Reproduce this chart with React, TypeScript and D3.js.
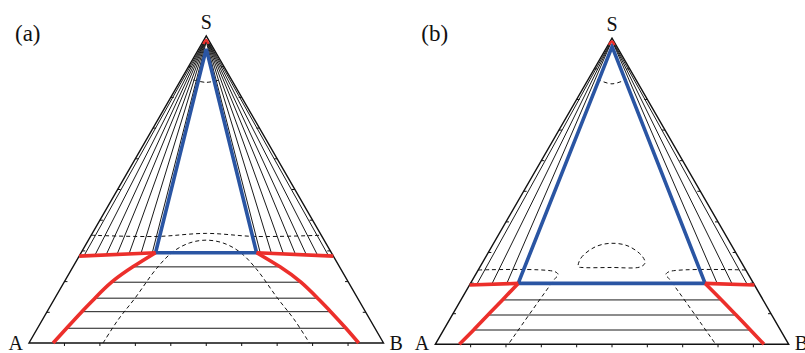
import * as d3 from "d3";
import React from "react";

// a point of the ternary diagram is [xB, xS]; xA = 1 - xB - xS
type P = [number, number];

const tickFractions = [0.1, 0.2, 0.3, 0.4, 0.5, 0.6, 0.7, 0.8, 0.9];

// ---------- panel (a)
const aBlue: P[] = [[0.021, 0.958], [0.21, 0.294], [0.495, 0.294]];
const aRedTop: P[] = [[0.005, 0.974], [0.0065, 0.987], [0.019, 0.974]];
const aRedFlatL: P[] = [[0, 0.283], [0.21, 0.294]];
const aRedFlatR: P[] = [[0.495, 0.294], [0.717, 0.283]];
const aRedL: P[] = [[0.21, 0.294], [0.169, 0.248], [0.134, 0.198], [0.113, 0.146], [0.098, 0.102], [0.082, 0.048], [0.068, 0]];
const aRedR: P[] = [[0.495, 0.294], [0.584, 0.248], [0.668, 0.198], [0.741, 0.146], [0.8, 0.102], [0.87, 0.048], [0.93, 0]];
const aFanTopL: P[] = [[0.003, 0.976], [0.004, 0.977], [0.005, 0.978], [0.006, 0.979], [0.007, 0.98], [0.008, 0.981], [0.009, 0.982]];
const aFanBotL: P[] = [[0.013, 0.284], [0.043, 0.285], [0.074, 0.287], [0.104, 0.288], [0.137, 0.29], [0.17, 0.292], [0.201, 0.293]];
const aFanTopR: P[] = [[0.021, 0.976], [0.019, 0.977], [0.017, 0.978], [0.015, 0.979], [0.013, 0.98], [0.011, 0.981], [0.009, 0.982]];
const aFanBotR: P[] = [[0.703, 0.284], [0.672, 0.285], [0.639, 0.287], [0.608, 0.288], [0.573, 0.29], [0.538, 0.292], [0.506, 0.293]];
const aDashTop: P[] = [[0.035, 0.857], [0.075, 0.849], [0.11, 0.857]];
const aDashFlat: P[] = [[0, 0.351], [0.185, 0.347], [0.3215, 0.357], [0.467, 0.347], [0.649, 0.351]];
const aDashCurve: P[] = [[0.209, 0], [0.2135, 0.075], [0.226, 0.146], [0.2385, 0.243], [0.2575, 0.297], [0.2895, 0.3257], [0.332, 0.335], [0.3848, 0.3257], [0.4455, 0.297], [0.5185, 0.243], [0.628, 0.146], [0.7115, 0.075], [0.791, 0]];

// ---------- panel (b)
const bBlue: P[] = [[0.014, 0.9725], [0.135, 0.199], [0.664, 0.199]];
const bRedTop: P[] = [[0.0025, 0.978], [0.005, 0.9895], [0.0181, 0.978]];
const bRedFlatL: P[] = [[0, 0.194], [0.135, 0.199]];
const bRedFlatR: P[] = [[0.664, 0.199], [0.806, 0.194]];
const bRedL: P[] = [[0.135, 0.199], [0.1175, 0.145], [0.101, 0.0957], [0.085, 0.0467], [0.068, 0]];
const bRedR: P[] = [[0.664, 0.199], [0.7375, 0.145], [0.8033, 0.0957], [0.8683, 0.0467], [0.93, 0]];
const bFanTopL: P[] = [[0.003, 0.978], [0.004, 0.98], [0.005, 0.982]];
const bFanBotL: P[] = [[0.0195, 0.195], [0.0615, 0.197], [0.103, 0.198]];
const bFanTopR: P[] = [[0.019, 0.978], [0.016, 0.98], [0.013, 0.982]];
const bFanBotR: P[] = [[0.7855, 0.195], [0.7415, 0.197], [0.699, 0.198]];
const bDashTop: P[] = [[0.025, 0.866], [0.0745, 0.851], [0.109, 0.866]];
const bDashDome: P[] = [[0.2778, 0.2536], [0.2713, 0.282], [0.2929, 0.318], [0.3322, 0.33], [0.3847, 0.3212], [0.4406, 0.2886], [0.4605, 0.2657], [0.453, 0.2526], [0.3717, 0.251], [0.2896, 0.251]];
const bDashL: P[] = [[0, 0.2428], [0.22, 0.2373], [0.2348, 0.2265], [0.2317, 0.2157], [0.2066, 0]];
const bDashR: P[] = [[0.7572, 0.2428], [0.5427, 0.2373], [0.5387, 0.2265], [0.5526, 0.2157], [0.7934, 0]];

const BLUE = "#2a55a3";
const RED = "#ec2f2b";
const FONT = "'Liberation Serif', 'DejaVu Serif', serif";

function Ternary({ geo, label, d }: any) {
  const x = d3.scaleLinear().domain([0, 1]).range([geo.x0, geo.x0 + geo.w]);
  const y = d3.scaleLinear().domain([0, 1]).range([geo.baseY, geo.baseY - (geo.w * Math.sqrt(3)) / 2]);
  const px = (p: P) => x(p[0] + p[1] / 2);
  const py = (p: P) => y(p[1]);
  const straight = d3.line<P>().x(px).y(py);
  const smooth = d3.line<P>().x(px).y(py).curve(d3.curveCatmullRom.alpha(0.5));
  const natural = d3.line<P>().x(px).y(py).curve(d3.curveNatural);
  const closed = d3.line<P>().x(px).y(py).curve(d3.curveCatmullRomClosed.alpha(0.5));

  const A: P = [0, 0], B: P = [1, 0], S: P = [0, 1];
  // tie lines of the lower two-phase region join the binodal points
  const ties = d.redL.slice(1, -1).map((p: P, i: number) => [p, d.redR[i + 1]]);

  return (
    <g>
      <path d={straight([A, B, S, A]) + "Z"} fill="none" stroke="#111" strokeWidth={1.4} strokeLinejoin="miter" />
      {tickFractions.map((t) => (
        <g key={t} stroke="#111" strokeWidth={1}>
          <line x1={px([t, 0])} y1={py([t, 0])} x2={px([t, 0])} y2={py([t, 0]) + 3} />
          <line x1={px([0, t])} y1={py([0, t])} x2={px([0, t]) + 3} y2={py([0, t])} />
          <line x1={px([1 - t, t])} y1={py([1 - t, t])} x2={px([1 - t, t]) - 3} y2={py([1 - t, t])} />
        </g>
      ))}
      <g stroke="#1a1a1a" strokeWidth={1} fill="none">
        {d.fanTopL.map((p: P, i: number) => (
          <path key={"fl" + i} d={straight([p, d.fanBotL[i]])!} />
        ))}
        {d.fanTopR.map((p: P, i: number) => (
          <path key={"fr" + i} d={straight([p, d.fanBotR[i]])!} />
        ))}
        {ties.map((t: P[], i: number) => (
          <path key={"t" + i} d={straight(t)!} />
        ))}
      </g>
      <g stroke="#111" strokeWidth={1} fill="none" strokeDasharray="4,3">
        {d.dashed.map((c: P[], i: number) => (
          <path key={"d" + i} d={smooth(c)!} />
        ))}
        {d.dashedClosed.map((c: P[], i: number) => (
          <path key={"dc" + i} d={closed(c)!} />
        ))}
      </g>
      <path d={straight(d.blue)! + "Z"} fill="none" stroke={BLUE} strokeWidth={3.6} strokeLinejoin="miter" />
      <g stroke={RED} strokeWidth={3.6} fill="none" strokeLinejoin="miter">
        <path d={straight(d.redFlatL)!} />
        <path d={straight(d.redFlatR)!} />
        <path d={natural(d.redL)!} />
        <path d={natural(d.redR)!} />
        <path d={smooth(d.redTop)!} strokeWidth={2.5} />
      </g>
      <g fontFamily={FONT} fill="#111">
        <text x={geo.x0 - 14} y={41} fontSize={23}>{label}</text>
        <text x={px(S)} y={geo.sY} fontSize={20} textAnchor="middle">S</text>
        <text x={px(A) - 6} y={350} fontSize={20} textAnchor="end">A</text>
        <text x={px(B) + 6} y={350} fontSize={20}>B</text>
      </g>
    </g>
  );
}

export default function App() {
  const panelA = {
    blue: aBlue, redTop: aRedTop, redFlatL: aRedFlatL, redFlatR: aRedFlatR, redL: aRedL, redR: aRedR,
    fanTopL: aFanTopL, fanBotL: aFanBotL, fanTopR: aFanTopR, fanBotR: aFanBotR,
    dashed: [aDashTop, aDashFlat, aDashCurve], dashedClosed: [],
  };
  const panelB = {
    blue: bBlue, redTop: bRedTop, redFlatL: bRedFlatL, redFlatR: bRedFlatR, redL: bRedL, redR: bRedR,
    fanTopL: bFanTopL, fanBotL: bFanBotL, fanTopR: bFanTopR, fanBotR: bFanBotR,
    dashed: [bDashTop, bDashL, bDashR], dashedClosed: [bDashDome],
  };
  return (
    <svg width={805} height={353} style={{ position: "absolute", left: 0, top: 0, background: "#fff" }}>
      <Ternary geo={{ x0: 29, w: 354.5, baseY: 343, sY: 29 }} label="(a)" d={panelA} />
      <Ternary geo={{ x0: 435.3, w: 353.4, baseY: 344.3, sY: 31 }} label="(b)" d={panelB} />
    </svg>
  );
}
